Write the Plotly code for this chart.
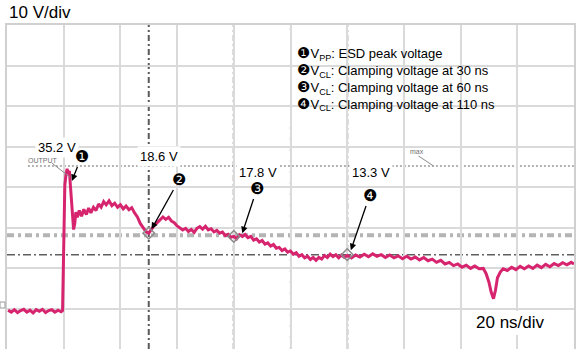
import plotly.graph_objects as go

# ---- data (read from the scope capture) ----
t_ns = [-19.6, -18.5, -17.4, -16.3, -15.2, -14.1, -13.0, -11.9, -10.8, -9.7, -8.6, -7.5, -6.4, -5.3, -4.2, -3.1, -2.0, -0.9, -0.4,
        0.0, 0.4, 0.8, 1.2, 1.6, 2.0, 2.4, 2.8, 3.2, 3.5, 3.9, 4.3, 4.8, 5.5, 6.3, 7.1, 8.0, 8.8, 9.6, 10.5, 11.4, 12.3, 13.2, 14.1,
        15.0, 16.0, 17.0, 18.0, 19.0, 20.0, 21.0, 22.0, 23.0, 24.0, 25.0, 26.0, 27.0, 28.0, 29.0, 30.0, 31.0, 32.0, 33.0, 34.0,
        35.0, 36.0, 37.0, 38.0, 39.0, 40.0, 41.0, 42.0, 43.0, 44.0, 45.0, 46.0, 47.0, 48.0, 49.0, 50.0, 51.0, 52.0, 53.0, 54.0,
        55.0, 56.0, 57.0, 58.0, 59.0, 60.0, 61.0, 62.0, 63.0, 64.0, 65.0, 66.0, 67.0, 68.0, 69.0, 70.0, 71.0, 72.0, 73.0, 74.0,
        75.0, 76.0, 77.0, 78.0, 79.0, 80.0, 81.0, 82.0, 83.0, 84.0, 85.0, 86.0, 87.0, 88.0, 89.0, 90.0, 91.0, 92.0, 93.0, 94.0,
        95.0, 96.0, 97.0, 98.0, 99.0, 100.0, 101.5, 103.0, 104.5, 106.0, 107.5, 109.0, 110.5, 112.0, 113.5, 115.0, 116.5, 118.0,
        119.5, 121.0, 122.5, 124.0, 125.5, 127.0, 128.5, 130.0, 131.5, 133.0, 134.5, 136.0, 137.5, 139.0, 140.5, 142.0, 143.5,
        145.0, 146.5, 148.0, 149.0, 150.0, 150.8, 151.6, 152.3, 153.0, 154.0, 155.0, 156.5, 158.0, 159.5, 161.0, 162.5, 164.0,
        165.5, 167.0, 168.5, 170.0, 171.5, 173.0, 174.5, 176.0, 177.5, 179.0, 180.0]
v_out = [-0.4, -0.9, -0.3, -1.0, -0.5, -0.2, -0.9, -0.4, -1.1, -0.3, -0.7, -0.2, -1.0, -0.5, -0.3, -0.9, -0.4, -0.8, -0.5,
         12.0, 30.5, 33.0, 34.5, 33.2, 34.0, 30.0, 26.5, 22.0, 19.5, 21.0, 23.8, 22.5, 24.2, 22.8, 24.5, 23.2, 24.8, 23.6, 25.0,
         24.2, 25.8, 25.0, 26.4, 25.6, 26.6, 25.4, 26.0, 25.0, 25.6, 24.6, 25.3, 24.4, 24.9, 23.6, 22.6, 21.0, 20.0, 19.0, 18.6,
         19.6, 20.6, 21.2, 21.8, 22.6, 22.0, 22.5, 21.6, 21.2, 20.4, 20.0, 19.4, 19.8, 19.0, 19.5, 18.8, 19.8, 20.2, 19.6, 20.3,
         19.4, 19.7, 18.9, 19.3, 18.6, 18.9, 18.0, 18.3, 17.6, 17.8, 17.2, 18.2, 17.8, 18.3, 17.5, 17.8, 16.9, 17.2, 16.4, 16.8,
         15.9, 16.2, 15.4, 15.8, 14.9, 15.1, 14.3, 14.7, 13.9, 14.2, 13.4, 13.8, 12.9, 13.3, 12.5, 12.9, 12.1, 12.6, 11.9, 12.6,
         12.2, 13.1, 12.6, 13.4, 12.8, 13.3, 12.5, 13.2, 12.6, 13.1, 12.5, 13.2, 12.7, 13.4, 12.8, 13.5, 12.9, 13.3, 12.6, 13.2,
         12.5, 13.0, 12.3, 12.9, 12.2, 12.7, 12.0, 12.6, 11.8, 12.2, 11.4, 11.9, 11.0, 11.4, 10.6, 11.0, 10.2, 10.7, 9.9, 10.5,
         9.8, 9.9, 8.6, 6.5, 4.0, 2.4, 4.5, 7.6, 9.0, 9.8, 9.4, 10.2, 9.6, 10.4, 9.8, 10.5, 9.9, 10.7, 10.1, 10.9, 10.3, 11.1,
         10.6, 11.3, 10.8, 11.4, 11.0]

marker_ids = ["\u2776", "\u2777", "\u2778", "\u2779"]
marker_t = [2.8, 30.0, 60.0, 100.0]
marker_v = [35.2, 18.6, 17.8, 13.3]
marker_labels = ["35.2 V", "18.6 V", "17.8 V", "13.3 V"]
legend_lines = ["V<sub>PP</sub>: ESD peak voltage",
                "V<sub>CL</sub>: Clamping voltage at 30 ns",
                "V<sub>CL</sub>: Clamping voltage at 60 ns",
                "V<sub>CL</sub>: Clamping voltage at 110 ns"]
x_range = [-20, 180]
y_range = [-10, 70]

# ---- layout geometry (pixels) ----
W, H = 576, 349
L, T = 7, 25
PW, PH = 569, 324


def px(x):
    return (x - L) / PW


def py(y):
    return 1 - (y - T) / PH


FONT = "Liberation Sans, Arial, sans-serif"
fig = go.Figure()

shapes = []
# center graticule tick lines
shapes.append(dict(type="line", xref="paper", yref="y", x0=0, x1=1, y0=30, y1=30,
                   line=dict(color="#a8a8a8", width=1.5, dash="2px,9px"), layer="between"))
shapes.append(dict(type="line", xref="x", yref="paper", x0=80, x1=80, y0=0, y1=1,
                   line=dict(color="#b8b8b8", width=1.5, dash="2px,9px"), layer="between"))
# legend box (covers graticule)
shapes.append(dict(type="rect", xref="paper", yref="paper", x0=px(290), x1=px(509), y0=py(127), y1=py(38),
                   fillcolor="white", line=dict(width=0), layer="between"))
# max level (dotted)
shapes.append(dict(type="line", xref="paper", yref="y", x0=px(28), x1=1, y0=marker_v[0], y1=marker_v[0],
                   line=dict(color="#9a9a9a", width=1.5, dash="2px,2px"), layer="between"))
# cursor level 18.6 V (thick light gray)
shapes.append(dict(type="line", xref="paper", yref="y", x0=0, x1=1, y0=marker_v[1] - 0.5, y1=marker_v[1] - 0.5,
                   line=dict(color="#b4b4b4", width=4, dash="7px,4px,3px,4px"), layer="between"))
# cursor level 13.3 V (dash-dot)
shapes.append(dict(type="line", xref="paper", yref="y", x0=0, x1=1, y0=marker_v[3], y1=marker_v[3],
                   line=dict(color="#606060", width=1.5, dash="8px,3px,2px,3px"), layer="between"))
# vertical time cursors
for tc in marker_t[1:]:
    shapes.append(dict(type="line", xref="x", yref="paper", x0=tc, x1=tc, y0=0, y1=1,
                       line=dict(color="#5a5a5a", width=2, dash="6px,3px,2px,3px"), layer="between"))
# "20 ns/div" box
shapes.append(dict(type="rect", xref="paper", yref="paper", x0=px(477), x1=px(563), y0=py(335), y1=py(311),
                   fillcolor="white", line=dict(width=0), layer="above"))
# OUTPUT / max pointer lines
shapes.append(dict(type="line", xref="paper", yref="paper", x0=px(52), x1=px(70), y0=py(163), y1=py(177),
                   line=dict(color="#8a8a8a", width=1)))
shapes.append(dict(type="line", xref="paper", yref="paper", x0=px(420), x1=px(435), y0=py(156), y1=py(166),
                   line=dict(color="#8a8a8a", width=1)))
# ground reference marker
shapes.append(dict(type="rect", xref="paper", yref="paper", x0=px(0), x1=px(5), y0=py(308), y1=py(302),
                   line=dict(color="#9a9a9a", width=1), fillcolor="white"))

fig.add_trace(go.Scatter(x=t_ns, y=v_out, mode="lines",
                         line=dict(color="#d6246f", width=3), hoverinfo="skip", showlegend=False))
fig.add_trace(go.Scatter(x=marker_t[1:], y=marker_v[1:], mode="markers",
                         marker=dict(symbol="diamond-open", size=9, color="#8c8c8c", line=dict(width=1.5)),
                         showlegend=False, hoverinfo="skip"))

ann = []


def txt(x, y, text, size, color="black", xanchor="center", bg=None, family=FONT, yanchor="middle", align="center"):
    d = dict(x=px(x), y=py(y), xref="paper", yref="paper", xanchor=xanchor, yanchor=yanchor, align=align,
             text=text, showarrow=False, font=dict(family=family, size=size, color=color))
    if bg:
        d.update(bgcolor=bg, borderpad=2)
    return d


# value labels
label_pos = [(57, 147), (160, 156), (259, 172), (372, 172)]
for lab, (x, y) in zip(marker_labels, label_pos):
    ann.append(txt(x, y, lab, 13, bg="white"))
# circled numbers with arrows
circ_pos = [(82, 156), (180, 179), (258, 188), (371, 195)]
tips = [(2.9, 31.5), (31.0, 19.6), (63.0, 18.6), (101.3, 14.4)]
for cid, (x, y), (tx, tv) in zip(marker_ids, circ_pos, tips):
    tip_x = L + (tx - x_range[0]) * PW / (x_range[1] - x_range[0])
    tip_y = T + (y_range[1] - tv) * PH / (y_range[1] - y_range[0])
    ann.append(dict(x=tx, y=tv, xref="x", yref="y", text=cid, showarrow=True,
                    ax=x - tip_x, ay=y - tip_y, arrowhead=2, arrowsize=1, arrowwidth=1.3,
                    arrowcolor="black", standoff=0,
                    font=dict(family="DejaVu Sans", size=16, color="black")))
# legend block (one multi-line text)
legend_text = "<br>".join(f"<span style='font-family:DejaVu Sans;font-size:15px'>{cid}</span>{line_txt}"
                          for cid, line_txt in zip(marker_ids, legend_lines))
ann.append(txt(296, 78, legend_text, 13, xanchor="left", align="left"))
# scale texts
ann.append(txt(7, 12, "10 V/div", 17, xanchor="left"))
ann.append(txt(512, 322, "20 ns/div", 17))
# tiny scope labels
ann.append(txt(43, 160, "OUTPUT", 7, color="#707070"))
ann.append(txt(418, 151, "max", 7, color="#707070"))

fig.update_layout(
    width=W, height=H,
    margin=dict(l=L, r=W - L - PW, t=T, b=H - T - PH),
    paper_bgcolor="white", plot_bgcolor="white",
    shapes=shapes, annotations=ann, showlegend=False,
    xaxis=dict(range=x_range, dtick=20, tick0=0, showgrid=True, gridcolor="#dadada", gridwidth=1.5,
               showticklabels=False, ticks="", zeroline=False, showline=True, linecolor="#d0d0d0",
               linewidth=2, mirror=True, fixedrange=True),
    yaxis=dict(range=y_range, dtick=10, tick0=0, showgrid=True, gridcolor="#dadada", gridwidth=1.5,
               showticklabels=False, ticks="", zeroline=False, showline=True, linecolor="#d0d0d0",
               linewidth=2, mirror=True, fixedrange=True),
)

fig.write_html("out.html")
